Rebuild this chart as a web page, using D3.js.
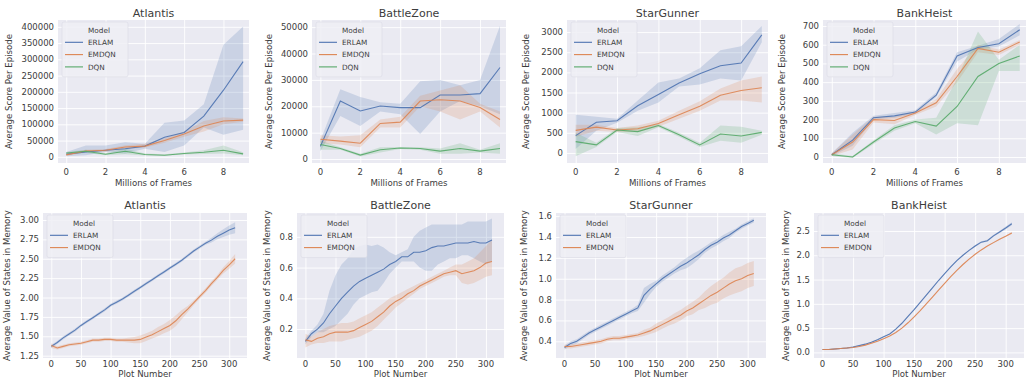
<!DOCTYPE html>
<html lang="en">
<head>
<meta charset="UTF-8">
<title>ERLAM / EMDQN / DQN</title>
<script src="https://d3js.org/d3.v7.min.js"></script>
<style>
  body { margin: 0; background: #fff; }
  svg text { font-family: "DejaVu Sans", sans-serif; fill: #3c3c3c; }
</style>
</head>
<body>
<svg id="chart" width="1028" height="381"></svg>
<script>
// ---- x values ----
const framesX = [0, 1, 2, 3, 4, 5, 6, 7, 8, 9];
const plotX = [0, 10, 20, 30, 40, 50, 60, 70, 80, 90, 100, 110, 120, 130, 140, 150,
               160, 170, 180, 190, 200, 210, 220, 230, 240, 250, 260, 270, 280, 290, 300, 310];

// ---- top row: score per episode (mean, lower, upper) ----
const atlErlam   = [8000, 15000, 20000, 25000, 33000, 60000, 75000, 125000, 205000, 293000];
const atlErlamLo = [2000, 5000, 15000, 10000, 25000, 15000, 35000, 90000, 68000, 83000];
const atlErlamHi = [15000, 35000, 35000, 45000, 40000, 105000, 112000, 162000, 345000, 401000];
const atlEmdqn   = [6000, 18000, 20000, 30000, 33000, 50000, 70000, 95000, 110000, 113000];
const atlEmdqnLo = [3000, 14000, 16000, 25000, 28000, 43000, 62000, 78000, 100000, 108000];
const atlEmdqnHi = [10000, 22000, 24000, 36000, 40000, 57000, 78000, 110000, 122000, 118000];
const atlDqn     = [12000, 17000, 8000, 17000, 7000, 5000, 10000, 14000, 20000, 9000];
const atlDqnLo   = [9000, 12000, 5000, 8000, 4000, 3000, 7000, 9000, 10000, 5000];
const atlDqnHi   = [15000, 22000, 11000, 26000, 10000, 8000, 13000, 20000, 35000, 14000];

const bzErlam   = [4800, 22000, 18200, 20100, 19500, 19500, 24300, 24300, 24800, 34700];
const bzErlamLo = [3000, 16300, 12500, 18000, 17000, 9500, 18000, 22000, 20000, 17000];
const bzErlamHi = [7000, 26500, 23500, 21500, 21000, 29500, 30000, 28000, 30000, 50500];
const bzEmdqn   = [7500, 6800, 6000, 13500, 14000, 22000, 22500, 22000, 19500, 15000];
const bzEmdqnLo = [6000, 5500, 4500, 12000, 12000, 20000, 18000, 15000, 18000, 12000];
const bzEmdqnHi = [9000, 8500, 9000, 15000, 16000, 24000, 26000, 28000, 21000, 18000];
const bzDqn     = [5500, 4000, 1500, 3500, 4200, 4000, 3000, 4000, 3000, 4000];
const bzDqnLo   = [3500, 3500, 1000, 2500, 3800, 3500, 2000, 2000, 2500, 2000];
const bzDqnHi   = [7000, 4500, 2000, 4500, 4600, 4500, 4000, 6000, 3500, 6000];

const sgErlam   = [430, 760, 800, 1170, 1450, 1735, 1965, 2165, 2230, 2930];
const sgErlamLo = [100, 550, 750, 1050, 1250, 1650, 1700, 1850, 1800, 2750];
const sgErlamHi = [950, 900, 850, 1300, 1750, 1850, 2100, 2550, 2650, 3150];
const sgEmdqn   = [560, 640, 570, 600, 730, 950, 1160, 1430, 1550, 1620];
const sgEmdqnLo = [400, 550, 520, 520, 650, 850, 1050, 1300, 1300, 1250];
const sgEmdqnHi = [700, 700, 620, 680, 800, 1050, 1280, 1600, 1800, 1900];
const sgDqn     = [280, 200, 570, 530, 680, 450, 200, 470, 420, 510];
const sgDqnLo   = [-80, 150, 520, 420, 640, 400, 150, 300, 250, 450];
const sgDqnHi   = [500, 250, 620, 640, 720, 500, 250, 680, 650, 550];

const bhErlam   = [12, 90, 210, 220, 240, 330, 540, 585, 605, 680];
const bhErlamLo = [5, 60, 200, 210, 230, 320, 510, 575, 590, 650];
const bhErlamHi = [20, 130, 220, 235, 250, 345, 560, 595, 630, 710];
const bhEmdqn   = [12, 80, 200, 195, 235, 290, 430, 580, 560, 615];
const bhEmdqnLo = [5, 40, 185, 175, 225, 270, 400, 560, 545, 600];
const bhEmdqnHi = [20, 120, 215, 215, 245, 310, 470, 600, 575, 625];
const bhDqn     = [12, 0, 80, 155, 190, 165, 270, 430, 500, 540];
const bhDqnLo   = [5, -5, 70, 140, 180, 120, 180, 170, 460, 460];
const bhDqnHi   = [20, 5, 90, 170, 200, 210, 420, 670, 520, 600];

// ---- bottom row: average value of states in memory ----
const atlMemErlam = [1.37, 1.42, 1.48, 1.53, 1.58, 1.64, 1.69, 1.74, 1.79, 1.84, 1.90, 1.94, 1.98, 2.03, 2.08, 2.13,
                     2.18, 2.23, 2.28, 2.33, 2.38, 2.43, 2.48, 2.54, 2.60, 2.65, 2.70, 2.74, 2.79, 2.83, 2.87, 2.90];
const atlMemErlamSd = [0.02, 0.02, 0.02, 0.02, 0.02, 0.02, 0.02, 0.02, 0.02, 0.02, 0.02, 0.02, 0.02, 0.02, 0.02, 0.02,
                       0.02, 0.02, 0.02, 0.02, 0.02, 0.02, 0.02, 0.02, 0.02, 0.02, 0.02, 0.03, 0.04, 0.05, 0.06, 0.07];
const atlMemEmdqn = [1.38, 1.35, 1.37, 1.39, 1.40, 1.41, 1.43, 1.45, 1.45, 1.46, 1.46, 1.45, 1.45, 1.45, 1.45, 1.46,
                     1.49, 1.52, 1.56, 1.60, 1.64, 1.70, 1.78, 1.85, 1.93, 2.01, 2.09, 2.18, 2.26, 2.35, 2.42, 2.50];
const atlMemEmdqnSd = [0.03, 0.02, 0.02, 0.02, 0.02, 0.02, 0.02, 0.02, 0.02, 0.02, 0.02, 0.02, 0.02, 0.03, 0.04, 0.05,
                       0.05, 0.05, 0.06, 0.06, 0.07, 0.07, 0.06, 0.04, 0.03, 0.03, 0.03, 0.03, 0.03, 0.04, 0.05, 0.06];

const bzMemErlam   = [0.12, 0.17, 0.20, 0.24, 0.30, 0.35, 0.40, 0.44, 0.48, 0.51, 0.53, 0.55, 0.57, 0.59, 0.62, 0.64,
                      0.67, 0.67, 0.70, 0.70, 0.71, 0.73, 0.74, 0.74, 0.75, 0.76, 0.76, 0.76, 0.77, 0.76, 0.76, 0.78];
const bzMemErlamLo = [0.10, 0.15, 0.18, 0.18, 0.20, 0.22, 0.26, 0.30, 0.36, 0.40, 0.42, 0.44, 0.45, 0.50, 0.56, 0.60,
                      0.64, 0.64, 0.64, 0.60, 0.58, 0.58, 0.62, 0.64, 0.66, 0.66, 0.68, 0.68, 0.66, 0.64, 0.62, 0.64];
const bzMemErlamHi = [0.14, 0.19, 0.23, 0.30, 0.45, 0.55, 0.62, 0.66, 0.72, 0.74, 0.75, 0.74, 0.75, 0.73, 0.70, 0.68,
                      0.70, 0.72, 0.80, 0.84, 0.86, 0.88, 0.88, 0.88, 0.88, 0.88, 0.88, 0.90, 0.90, 0.90, 0.90, 0.92];
const bzMemEmdqn   = [0.13, 0.12, 0.14, 0.15, 0.17, 0.18, 0.18, 0.18, 0.19, 0.21, 0.23, 0.25, 0.28, 0.31, 0.35, 0.38,
                      0.40, 0.43, 0.45, 0.48, 0.50, 0.52, 0.54, 0.56, 0.57, 0.58, 0.56, 0.57, 0.58, 0.60, 0.63, 0.64];
const bzMemEmdqnLo = [0.08, 0.10, 0.11, 0.11, 0.12, 0.12, 0.12, 0.13, 0.14, 0.15, 0.17, 0.19, 0.22, 0.26, 0.30, 0.34,
                      0.37, 0.40, 0.43, 0.46, 0.48, 0.50, 0.52, 0.54, 0.55, 0.55, 0.50, 0.49, 0.50, 0.52, 0.54, 0.55];
const bzMemEmdqnHi = [0.17, 0.15, 0.18, 0.20, 0.22, 0.23, 0.24, 0.24, 0.25, 0.27, 0.29, 0.31, 0.34, 0.37, 0.40, 0.42,
                      0.44, 0.46, 0.48, 0.50, 0.52, 0.54, 0.56, 0.58, 0.60, 0.62, 0.62, 0.64, 0.66, 0.70, 0.74, 0.78];

const sgMemErlam = [0.34, 0.38, 0.40, 0.44, 0.48, 0.51, 0.54, 0.57, 0.60, 0.63, 0.66, 0.69, 0.72, 0.84, 0.90, 0.95,
                    1.00, 1.04, 1.08, 1.12, 1.15, 1.19, 1.23, 1.28, 1.32, 1.35, 1.39, 1.42, 1.46, 1.50, 1.53, 1.56];
const sgMemErlamSd = [0.02, 0.02, 0.02, 0.02, 0.02, 0.02, 0.02, 0.02, 0.02, 0.02, 0.02, 0.02, 0.03, 0.07, 0.05, 0.03,
                      0.03, 0.03, 0.03, 0.04, 0.05, 0.05, 0.04, 0.03, 0.03, 0.03, 0.03, 0.03, 0.02, 0.02, 0.02, 0.02];
const sgMemEmdqn = [0.35, 0.35, 0.36, 0.37, 0.38, 0.39, 0.40, 0.42, 0.43, 0.43, 0.44, 0.45, 0.46, 0.48, 0.50, 0.53,
                    0.56, 0.59, 0.62, 0.65, 0.69, 0.72, 0.76, 0.80, 0.84, 0.87, 0.91, 0.95, 0.98, 1.00, 1.03, 1.05];
const sgMemEmdqnSd = [0.02, 0.02, 0.02, 0.02, 0.02, 0.02, 0.02, 0.02, 0.02, 0.02, 0.02, 0.02, 0.02, 0.03, 0.03, 0.04,
                      0.04, 0.04, 0.05, 0.05, 0.05, 0.06, 0.06, 0.08, 0.09, 0.10, 0.10, 0.11, 0.12, 0.12, 0.12, 0.12];

const bhMemErlam = [0.06, 0.06, 0.07, 0.08, 0.09, 0.11, 0.14, 0.17, 0.21, 0.26, 0.32, 0.38, 0.48, 0.60, 0.74, 0.88,
                    1.03, 1.18, 1.33, 1.48, 1.62, 1.76, 1.89, 2.00, 2.10, 2.19, 2.27, 2.30, 2.40, 2.48, 2.56, 2.65];
const bhMemErlamSd = [0.01, 0.01, 0.01, 0.01, 0.01, 0.01, 0.01, 0.01, 0.01, 0.01, 0.01, 0.01, 0.01, 0.01, 0.01, 0.01,
                      0.01, 0.01, 0.01, 0.01, 0.01, 0.01, 0.01, 0.01, 0.01, 0.02, 0.02, 0.02, 0.02, 0.02, 0.03, 0.03];
const bhMemEmdqn = [0.06, 0.06, 0.07, 0.08, 0.09, 0.10, 0.12, 0.15, 0.19, 0.23, 0.28, 0.34, 0.41, 0.50, 0.61, 0.73,
                    0.86, 1.00, 1.14, 1.28, 1.42, 1.56, 1.69, 1.81, 1.92, 2.02, 2.11, 2.19, 2.26, 2.33, 2.39, 2.46];
const bhMemEmdqnSd = [0.01, 0.01, 0.01, 0.01, 0.01, 0.01, 0.01, 0.01, 0.01, 0.01, 0.01, 0.01, 0.01, 0.01, 0.01, 0.01,
                      0.01, 0.01, 0.01, 0.01, 0.01, 0.01, 0.01, 0.01, 0.01, 0.01, 0.01, 0.01, 0.01, 0.01, 0.01, 0.02];

// ---- tick labels ----
const framesTicks = [0, 2, 4, 6, 8];
const plotTicks = [0, 50, 100, 150, 200, 250, 300];
const atlScoreTicks = [0, 50000, 100000, 150000, 200000, 250000, 300000, 350000, 400000];
const bzScoreTicks = [0, 10000, 20000, 30000, 40000, 50000];
const sgScoreTicks = [0, 500, 1000, 1500, 2000, 2500, 3000];
const bhScoreTicks = [0, 100, 200, 300, 400, 500, 600, 700];
const atlMemTicks = [1.25, 1.50, 1.75, 2.00, 2.25, 2.50, 2.75, 3.00];
const bzMemTicks = [0.2, 0.4, 0.6, 0.8];
const sgMemTicks = [0.4, 0.6, 0.8, 1.0, 1.2, 1.4, 1.6];
const bhMemTicks = [0.0, 0.5, 1.0, 1.5, 2.0, 2.5];

const colors = { ERLAM: '#4c72b0', EMDQN: '#dd8452', DQN: '#55a868' };

const svg = d3.select('#chart');

// helpers to zip arrays into series
function band(name, xs, mean, lo, hi) {
    return { name, points: xs.map((x, i) => ({ x, y: mean[i], lo: lo[i], hi: hi[i] })) };
}
function spread(name, xs, mean, sd) {
    return { name, points: xs.map((x, i) => ({ x, y: mean[i], lo: mean[i] - sd[i], hi: mean[i] + sd[i] })) };
}

const topRow = { top: 20, bottom: 163, xDomain: [-0.42, 9.3], xTicks: framesTicks,
                 xLabel: 'Millions of Frames', yLabel: 'Average Score Per Episode', titleY: 17,
                 tickY: 175, labelY: 186 };
const botRow = { top: 213, bottom: 358, xDomain: [-14, 330], xTicks: plotTicks,
                 xLabel: 'Plot Number', yLabel: 'Average Value of States in Memory', titleY: 209,
                 tickY: 367, labelY: 377 };

const panels = [
    { row: topRow, title: 'Atlantis', left: 58, right: 249, yLabelX: 12, yDomain: [-19000, 421000],
      yTicks: atlScoreTicks, fmt: d3.format('d'),
      series: [band('ERLAM', framesX, atlErlam, atlErlamLo, atlErlamHi),
               band('EMDQN', framesX, atlEmdqn, atlEmdqnLo, atlEmdqnHi),
               band('DQN', framesX, atlDqn, atlDqnLo, atlDqnHi)] },
    { row: topRow, title: 'BattleZone', left: 312, right: 506, yLabelX: 272, yDomain: [-1500, 52700],
      yTicks: bzScoreTicks, fmt: d3.format('d'),
      series: [band('ERLAM', framesX, bzErlam, bzErlamLo, bzErlamHi),
               band('EMDQN', framesX, bzEmdqn, bzEmdqnLo, bzEmdqnHi),
               band('DQN', framesX, bzDqn, bzDqnLo, bzDqnHi)] },
    { row: topRow, title: 'StarGunner', left: 567, right: 768, yLabelX: 529, yDomain: [-250, 3300],
      yTicks: sgScoreTicks, fmt: d3.format('d'),
      series: [band('ERLAM', framesX, sgErlam, sgErlamLo, sgErlamHi),
               band('EMDQN', framesX, sgEmdqn, sgEmdqnLo, sgEmdqnHi),
               band('DQN', framesX, sgDqn, sgDqnLo, sgDqnHi)] },
    { row: topRow, title: 'BankHeist', left: 823, right: 1026, yLabelX: 785, yDomain: [-32, 732],
      yTicks: bhScoreTicks, fmt: d3.format('d'),
      series: [band('ERLAM', framesX, bhErlam, bhErlamLo, bhErlamHi),
               band('EMDQN', framesX, bhEmdqn, bhEmdqnLo, bhEmdqnHi),
               band('DQN', framesX, bhDqn, bhDqnLo, bhDqnHi)] },
    { row: botRow, title: 'Atlantis', left: 43, right: 247, yLabelX: 10, yDomain: [1.22, 3.09],
      yTicks: atlMemTicks, fmt: d3.format('.2f'),
      series: [spread('ERLAM', plotX, atlMemErlam, atlMemErlamSd),
               spread('EMDQN', plotX, atlMemEmdqn, atlMemEmdqnSd)] },
    { row: botRow, title: 'BattleZone', left: 297, right: 504, yLabelX: 270, yDomain: [0.012, 0.955],
      yTicks: bzMemTicks, fmt: d3.format('.1f'),
      series: [band('ERLAM', plotX, bzMemErlam, bzMemErlamLo, bzMemErlamHi),
               band('EMDQN', plotX, bzMemEmdqn, bzMemEmdqnLo, bzMemEmdqnHi)] },
    { row: botRow, title: 'StarGunner', left: 556, right: 766, yLabelX: 527, yDomain: [0.24, 1.63],
      yTicks: sgMemTicks, fmt: d3.format('.1f'),
      series: [spread('ERLAM', plotX, sgMemErlam, sgMemErlamSd),
               spread('EMDQN', plotX, sgMemEmdqn, sgMemEmdqnSd)] },
    { row: botRow, title: 'BankHeist', left: 814, right: 1024, yLabelX: 789, yDomain: [-0.115, 2.87],
      yTicks: bhMemTicks, fmt: d3.format('.1f'),
      series: [spread('ERLAM', plotX, bhMemErlam, bhMemErlamSd),
               spread('EMDQN', plotX, bhMemEmdqn, bhMemEmdqnSd)] }
];

panels.forEach((p, idx) => {
    const r = p.row;
    const x = d3.scaleLinear().domain(r.xDomain).range([p.left, p.right]);
    const y = d3.scaleLinear().domain(p.yDomain).range([r.bottom, r.top]);
    const g = svg.append('g');

    const clipId = 'clip' + idx;
    svg.append('clipPath').attr('id', clipId)
        .append('rect')
        .attr('x', p.left).attr('y', r.top)
        .attr('width', p.right - p.left).attr('height', r.bottom - r.top);

    // background + grid
    g.append('rect')
        .attr('x', p.left).attr('y', r.top)
        .attr('width', p.right - p.left).attr('height', r.bottom - r.top)
        .attr('fill', '#eaeaf2');

    g.append('g')
        .attr('transform', `translate(0,${r.bottom})`)
        .call(d3.axisBottom(x).tickValues(r.xTicks).tickSize(-(r.bottom - r.top)).tickFormat(''))
        .call(a => a.select('.domain').remove())
        .call(a => a.selectAll('line').attr('stroke', '#fff').attr('stroke-width', 0.9));
    g.append('g')
        .attr('transform', `translate(${p.left},0)`)
        .call(d3.axisLeft(y).tickValues(p.yTicks).tickSize(-(p.right - p.left)).tickFormat(''))
        .call(a => a.select('.domain').remove())
        .call(a => a.selectAll('line').attr('stroke', '#fff').attr('stroke-width', 0.9));

    // tick labels
    g.selectAll('.xt').data(r.xTicks).join('text')
        .attr('x', d => x(d)).attr('y', r.tickY)
        .attr('text-anchor', 'middle').attr('font-size', 8.5)
        .text(d => d);
    g.selectAll('.yt').data(p.yTicks).join('text')
        .attr('x', p.left - 4).attr('y', d => y(d) + 3)
        .attr('text-anchor', 'end').attr('font-size', 8.5)
        .text(d => p.fmt(d));

    // bands and lines
    const plot = g.append('g').attr('clip-path', `url(#${clipId})`);
    const area = d3.area().x(d => x(d.x)).y0(d => y(d.lo)).y1(d => y(d.hi));
    const line = d3.line().x(d => x(d.x)).y(d => y(d.y));
    p.series.forEach(s => {
        plot.append('path').datum(s.points)
            .attr('d', area).attr('fill', colors[s.name]).attr('fill-opacity', 0.2);
    });
    p.series.forEach(s => {
        plot.append('path').datum(s.points)
            .attr('d', line).attr('fill', 'none')
            .attr('stroke', colors[s.name]).attr('stroke-width', 1.1)
            .attr('stroke-opacity', 0.9);
    });

    // legend
    const lg = g.append('g').attr('transform', `translate(${p.left + 4},${r.top + 2})`);
    const rowH = 12.3;
    lg.append('rect')
        .attr('width', 66).attr('height', 18 + rowH * p.series.length)
        .attr('rx', 2)
        .attr('fill', '#eeeef4').attr('fill-opacity', 0.85)
        .attr('stroke', '#dadae4').attr('stroke-width', 0.6);
    lg.append('text').attr('x', 26).attr('y', 10.5).attr('font-size', 7.3).text('Model');
    p.series.forEach((s, i) => {
        const yy = 8 + rowH * (i + 1);
        lg.append('line')
            .attr('x1', 3).attr('x2', 21).attr('y1', yy).attr('y2', yy)
            .attr('stroke', colors[s.name]).attr('stroke-width', 1.1);
        lg.append('text').attr('x', 26).attr('y', yy + 2.6).attr('font-size', 7.3).text(s.name);
    });

    // titles and axis labels
    const cx = (p.left + p.right) / 2;
    g.append('text').attr('x', cx).attr('y', r.titleY)
        .attr('text-anchor', 'middle').attr('font-size', 11).text(p.title);
    g.append('text').attr('x', cx).attr('y', r.labelY)
        .attr('text-anchor', 'middle').attr('font-size', 8.6).text(r.xLabel);
    g.append('text')
        .attr('transform', `translate(${p.yLabelX},${(r.top + r.bottom) / 2}) rotate(-90)`)
        .attr('text-anchor', 'middle').attr('font-size', 8.6).text(r.yLabel);
});
</script>
</body>
</html>
